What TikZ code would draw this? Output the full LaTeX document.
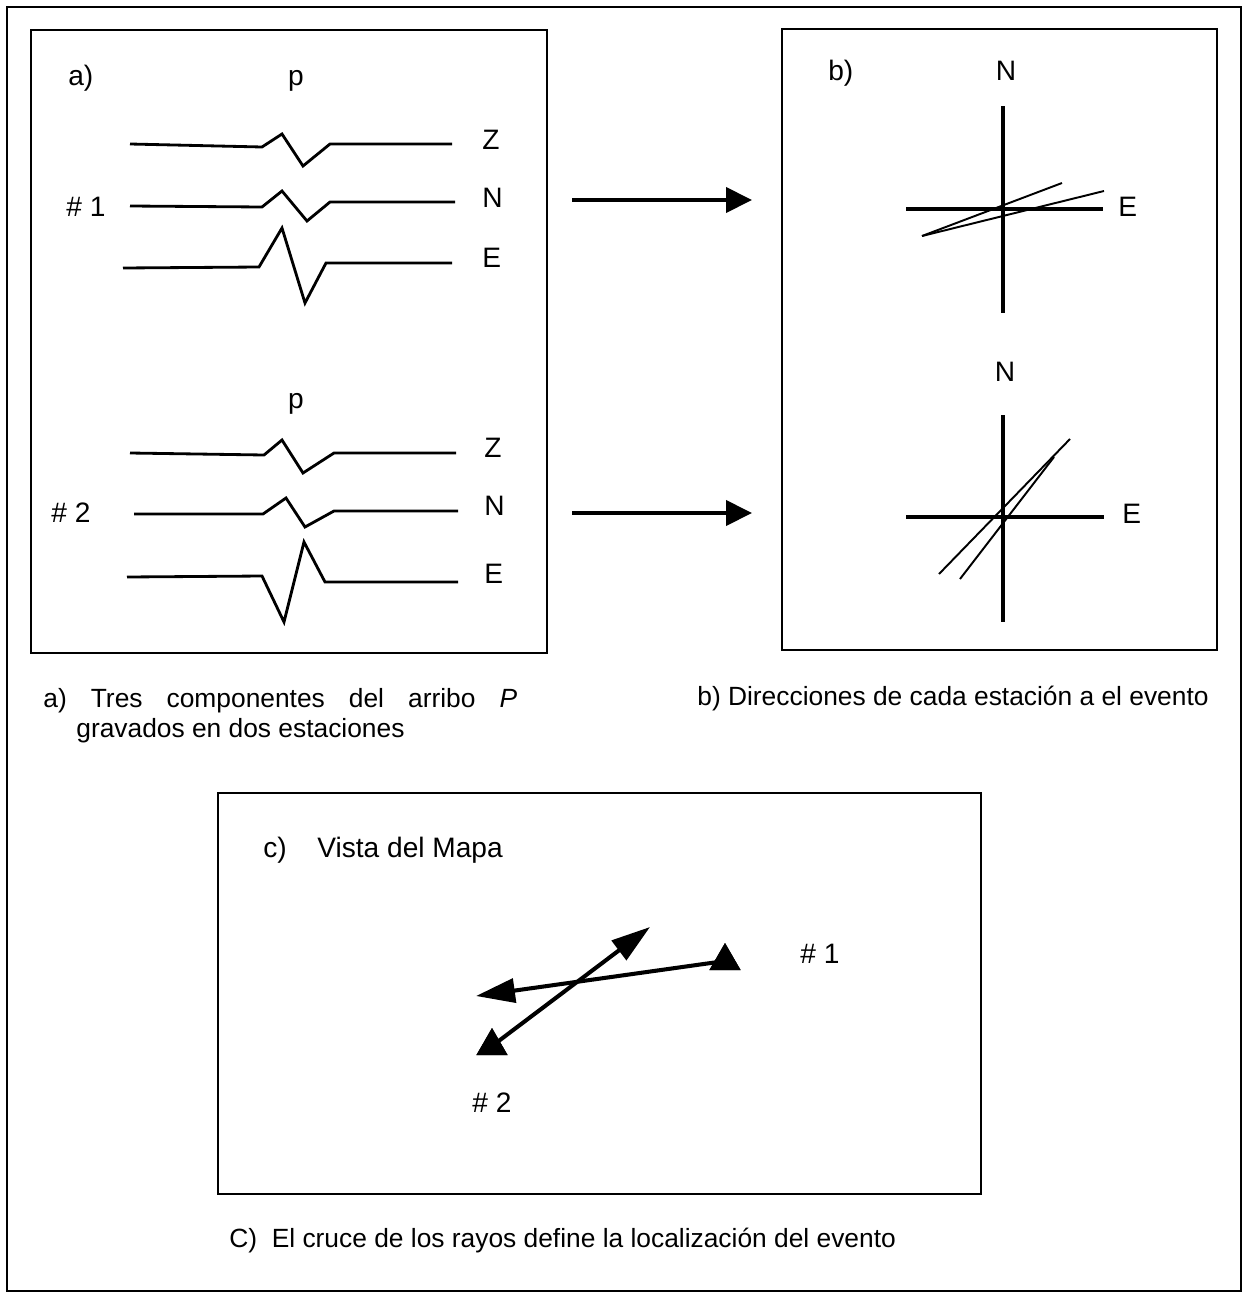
\documentclass[tikz,border=0pt]{standalone}
\usepackage{fontspec}
\setmainfont{Liberation Sans}
\usetikzlibrary{arrows.meta,shapes.geometric}
\tikzset{
  frame/.style={line width=1.3pt},
  panel/.style={line width=1.1pt},
  trace/.style={line width=1.6pt, line join=miter},
  axis/.style={line width=2.4pt},
  ray/.style={line width=1.1pt},
  bigarrow/.style={line width=2.3pt, -{Triangle[length=0.52cm,width=0.5cm]}},
  maparrow/.style={line width=2.3pt, -{Triangle[length=0.78cm,width=0.48cm]}},
  lbl/.style={font=\fontsize{16}{19}\selectfont, inner sep=0pt, anchor=base west},
  lblc/.style={lbl, anchor=base},
  captxt/.style={font=\fontsize{15}{18}\selectfont, inner sep=0pt, anchor=base west},
  station/.style={regular polygon, regular polygon sides=3, fill=black, draw=none, inner sep=0pt, minimum size=0.72cm},
}
\begin{document}
\begin{tikzpicture}[x=0.02cm,y=-0.02cm]
\useasboundingbox (0,0) rectangle (1249,1298);
\fill[white] (0,0) rectangle (1249,1298);
% outer frame
\draw[frame] (7,7) rectangle (1241,1291);
% panels
\draw[panel] (31,30) rectangle (547,653);
\draw[panel] (782,29) rectangle (1217,650);
\draw[panel] (218,793) rectangle (981,1194);

% ---------- panel a ----------
\node[lbl] (alab) at (68,85) {a)};
\node[lblc] (p1) at (296,85) {p};
\node[lbl] (st1lab) at (66,216) {\# 1};
\node[lbl] (z1) at (482,149) {Z};
\node[lbl] (n1) at (482,207) {N};
\node[lbl] (e1) at (482,267) {E};
\draw[trace] (130,144)--(262,147)--(282,134)--(303,166)--(330,144)--(452,144);
\draw[trace] (130,206)--(262,207)--(282,191)--(307,221)--(330,202)--(455,202);
\draw[trace] (123,268)--(259,267)--(282,228)--(305,303)--(326,263)--(452,263);

\node[lblc] (p2) at (296,408) {p};
\node[lbl] (st2lab) at (51,522) {\# 2};
\node[lbl] (z2) at (484,457) {Z};
\node[lbl] (n2) at (484,515) {N};
\node[lbl] (e2) at (484,583) {E};
\draw[trace] (130,453)--(264,455)--(282,440)--(303,473)--(334,453)--(456,453);
\draw[trace] (134,514)--(263,514)--(286,498)--(305,527)--(334,511)--(458,511);
\draw[trace] (127,577)--(262,576)--(284,622)--(304,542)--(325,582)--(458,582);

% arrows a -> b
\coordinate (a1s) at (572,200); \coordinate (a1e) at (752,200);
\coordinate (a2s) at (572,513); \coordinate (a2e) at (752,513);
\draw[bigarrow] (a1s) -- (a1e);
\draw[bigarrow] (a2s) -- (a2e);

% ---------- panel b ----------
\node[lbl] (blab) at (828,80) {b)};
\node[lblc] (bn1) at (1006,80) {N};
\node[lbl] (be1) at (1118,216) {E};
\coordinate (v1t) at (1003,106); \coordinate (v1b) at (1003,313);
\coordinate (h1l) at (906,209); \coordinate (h1r) at (1103,209);
\draw[axis] (v1t) -- (v1b);
\draw[axis] (h1l) -- (h1r);
\coordinate (r1o) at (922,236);
\coordinate (r1a) at (1062,183); \coordinate (r1b) at (1104,191);
\draw[ray] (r1o) -- (r1a);
\draw[ray] (r1o) -- (r1b);

\node[lblc] (bn2) at (1005,381) {N};
\node[lbl] (be2) at (1122,523) {E};
\coordinate (v2t) at (1003,415); \coordinate (v2b) at (1003,622);
\coordinate (h2l) at (906,517); \coordinate (h2r) at (1104,517);
\draw[axis] (v2t) -- (v2b);
\draw[axis] (h2l) -- (h2r);
\coordinate (r2a0) at (939,574); \coordinate (r2a1) at (1070,439);
\coordinate (r2b0) at (960,579); \coordinate (r2b1) at (1054,457);
\draw[ray] (r2a0) -- (r2a1);
\draw[ray] (r2b0) -- (r2b1);

% ---------- captions ----------
\node[captxt] (capa1) at (43,707) {\makebox[9.48cm][s]{a)\hfill Tres\hfill componentes\hfill del\hfill arribo\hfill \textit{P}}};
\node[captxt] (capa2) at (76,737) {gravados en dos estaciones};
\node[captxt] (capb) at (697,705) {b) Direcciones de cada estación a el evento};

% ---------- panel c ----------
\node[lbl] (clab) at (263,857) {c)};
\node[lbl] (vista) at (317,857) {Vista del Mapa};
\node[station] (s1) at (725,961) {};
\node[station] (s2) at (492,1046) {};
\coordinate (tip1) at (476,996);
\coordinate (tip2) at (650,927);
\draw[maparrow] (s1.center) -- (tip1);
\draw[maparrow] (s2.center) -- (tip2);
\node[station] at (s1) {};
\node[station] at (s2) {};
\node[lbl] (s1lab) at (800,963) {\# 1};
\node[lbl] (s2lab) at (472,1112) {\# 2};

\node[captxt] (capc) at (229,1247) {C)\ \ El cruce de los rayos define la localización del evento};
\end{tikzpicture}
\end{document}
